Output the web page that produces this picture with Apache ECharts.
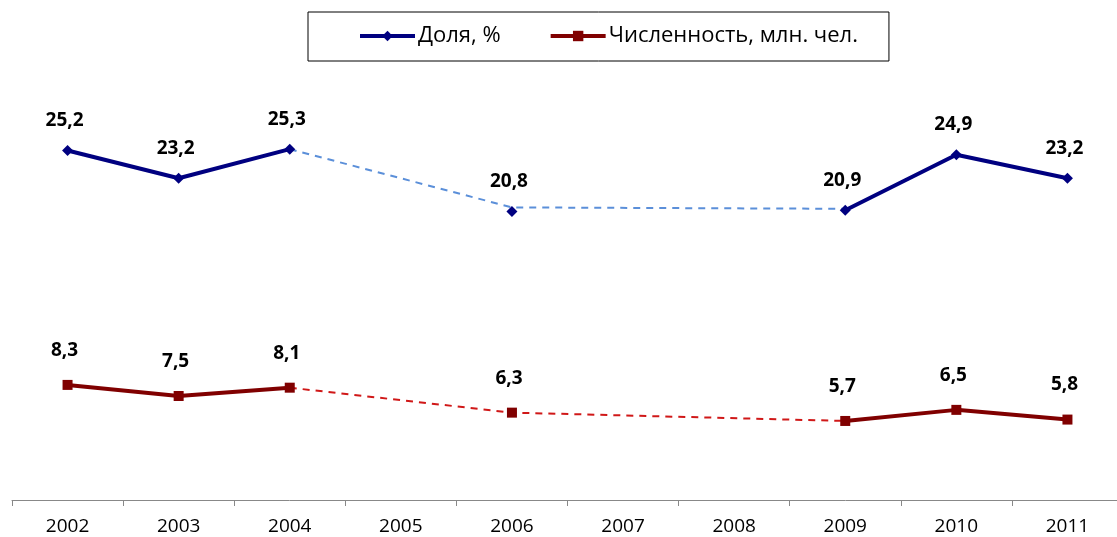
<!DOCTYPE html>
<html><head><meta charset="utf-8">
<script src="https://cdn.jsdelivr.net/npm/echarts@6/dist/echarts.min.js"></script>
<style>html,body{margin:0;padding:0;background:#fff;overflow:hidden}#c{width:1124px;height:537px}</style>
</head><body><div id="c"></div>
<script>
const years = ['2002','2003','2004','2005','2006','2007','2008','2009','2010','2011'];
const shareName = 'Доля, %';
const countName = 'Численность, млн. чел.';
const share = [25.2, 23.2, 25.3, null, 20.8, null, null, 20.9, 24.9, 23.2];
const count = [8.3, 7.5, 8.1, null, 6.3, null, null, 5.7, 6.5, 5.8];
const shareGap = [null, null, 25.3, null, 21.1, null, null, 21.0, null, null];
const countGap = [null, null, 8.1, null, 6.3, null, null, 5.7, null, null];

const FONT = '"Open Sans", "Noto Sans", sans-serif';
const fmt = p => String(p.value).replace('.', ',');
const chart = echarts.init(document.getElementById('c'), null, {renderer:'canvas'});
chart.setOption({
  animation:false,
  textStyle:{fontFamily:FONT},
  legend:{
    data:[shareName, countName],
    left:308, top:12,
    padding:[13,31,14,50],
    borderColor:'#000', borderWidth:1,
    itemWidth:55, itemHeight:13, itemGap:48,
    lineStyle:{width:4},
    textStyle:{fontSize:22, color:'#000', fontFamily:FONT, padding:[0,0,0,-2]}
  },
  grid:{left:12, top:84, width:1111, height:416, containLabel:false},
  xAxis:{
    type:'category', data:years, boundaryGap:true,
    axisLine:{lineStyle:{color:'#888', width:1}},
    axisTick:{show:true, length:6, lineStyle:{color:'#888'}},
    axisLabel:{color:'#000', fontSize:19, margin:17, fontFamily:FONT}
  },
  yAxis:{type:'value', min:0, max:30, show:false, splitLine:{show:false}},
  series:[
    {name:'gap1', type:'line', data:shareGap, connectNulls:true, symbol:'none', silent:true,
     lineStyle:{color:'#5b8fd9', width:2, type:[7,6]}, z:1},
    {name:'gap2', type:'line', data:countGap, connectNulls:true, symbol:'none', silent:true,
     lineStyle:{color:'#d01818', width:2, type:[7,6]}, z:1},
    {name:shareName, type:'line', data:share, connectNulls:false,
     symbol:'diamond', symbolSize:11, showAllSymbol:true,
     itemStyle:{color:'#000080'}, lineStyle:{color:'#000080', width:4},
     label:{show:true, position:'top', distance:15, offset:[-3,0], formatter:fmt, fontSize:19, fontWeight:'bold', color:'#000', fontFamily:FONT}, z:3},
    {name:countName, type:'line', data:count, connectNulls:false,
     symbol:'rect', symbolSize:10, showAllSymbol:true,
     itemStyle:{color:'#800000'}, lineStyle:{color:'#800000', width:4},
     label:{show:true, position:'top', distance:20, offset:[-3,0], formatter:fmt, fontSize:19, fontWeight:'bold', color:'#000', fontFamily:FONT}, z:3}
  ]
});
</script></body></html>
